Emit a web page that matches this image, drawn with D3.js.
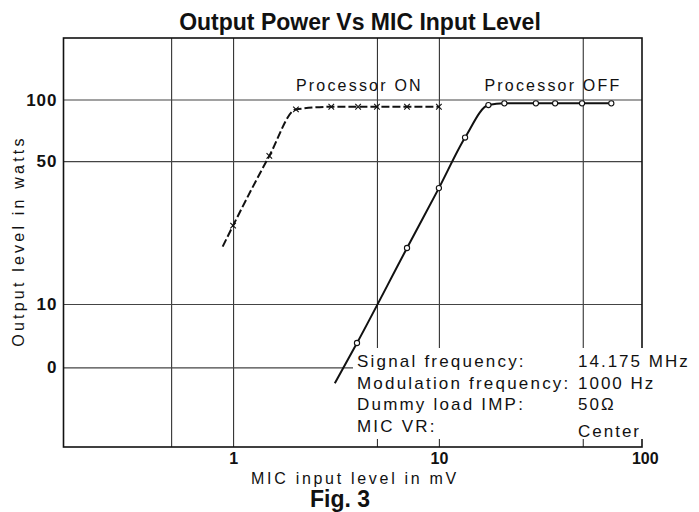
<!DOCTYPE html>
<html>
<head>
<meta charset="utf-8">
<script src="https://cdn.jsdelivr.net/npm/d3@7"></script>
<style>
  body { margin: 0; background: #fff; }
  svg { display: block; font-family: "Liberation Sans", Arial, sans-serif; }
</style>
</head>
<body>
<svg id="chart"></svg>
<script>
// data (mic input in mV, output in watts)
const onMic = [0.89, 1, 1.5, 2.02, 3, 4.05, 5, 7, 10];
const onWatts = [19.1, 24.2, 53, 89.5, 92.2, 92.2, 92.2, 92.2, 92.2];
const offMic = [3.12, 4, 7, 10, 13.4, 17.4, 20.8, 29.6, 36.7, 49.6, 68.8];
const offWatts = [4.1, 6.45, 18.8, 36.9, 65.2, 94, 95.8, 95.8, 95.8, 95.8, 95.8];

const xGridValues = [0.5, 1, 5, 10, 50];
const xTickValues = [1, 10, 100];
const xTickLabels = ["1", "10", "100"];
const yTickValues = [4.9, 10, 50, 100];
const yTickLabels = ["0", "10", "50", "100"];

const noteLabels = ["Signal frequency:", "Modulation frequency:", "Dummy load IMP:", "MIC VR:"];
const noteValues = ["14.175 MHz", "1000 Hz", "50\u03A9", "Center"];

const width = 699, height = 512;
const margin = { top: 38, right: 57, bottom: 65, left: 63.5 };
const innerW = width - margin.left - margin.right;
const innerH = height - margin.top - margin.bottom;

const svg = d3.select("#chart").attr("width", width).attr("height", height);

const x = d3.scaleLog().domain([0.15, 97]).range([0, innerW]);
const y = d3.scaleLog().domain([2, 200]).range([innerH, 0]);

// title
svg.append("text")
  .attr("x", 360).attr("y", 30)
  .attr("text-anchor", "middle")
  .style("font-size", "23px").style("font-weight", "bold")
  .attr("fill", "#111")
  .text("Output Power Vs MIC Input Level");

const g = svg.append("g").attr("transform", `translate(${margin.left},${margin.top})`);

// grid
g.append("g")
  .call(d3.axisBottom(x).tickValues(xGridValues).tickSize(innerH).tickFormat(""))
  .call((s) => s.select(".domain").remove())
  .selectAll("line").attr("stroke", "#333").attr("stroke-width", 1.1);

g.append("g")
  .call(d3.axisLeft(y).tickValues(yTickValues).tickSize(-innerW).tickFormat(""))
  .call((s) => s.select(".domain").remove())
  .selectAll("line").attr("stroke", "#444").attr("stroke-width", 1.1);

// frame
g.append("rect")
  .attr("width", innerW).attr("height", innerH)
  .attr("fill", "none").attr("stroke", "#111").attr("stroke-width", 1.6);

// white box behind the test conditions
g.append("rect")
  .attr("x", 353 - margin.left).attr("y", 348 - margin.top)
  .attr("width", 300).attr("height", 91)
  .attr("fill", "#fff");

// axis labels
const xAxis = g.append("g")
  .attr("transform", `translate(0,${innerH})`)
  .call(d3.axisBottom(x).tickValues(xTickValues).tickSize(0).tickPadding(6)
    .tickFormat((d, i) => xTickLabels[i]));
xAxis.select(".domain").remove();
xAxis.selectAll("text")
  .style("font-size", "16px").style("font-weight", "bold")
  .style("font-family", "Liberation Sans, Arial, sans-serif")
  .attr("fill", "#111");

const yAxis = g.append("g")
  .call(d3.axisLeft(y).tickValues(yTickValues).tickSize(0).tickPadding(6)
    .tickFormat((d, i) => yTickLabels[i]));
yAxis.select(".domain").remove();
yAxis.selectAll("text")
  .style("font-size", "17px").style("font-weight", "bold")
  .style("letter-spacing", "1px")
  .style("font-family", "Liberation Sans, Arial, sans-serif")
  .attr("fill", "#111");

svg.append("text")
  .attr("x", 355).attr("y", 484)
  .attr("text-anchor", "middle")
  .style("font-size", "16px").style("letter-spacing", "2.7px")
  .attr("fill", "#111")
  .text("MIC input level in mV");

svg.append("text")
  .attr("transform", "translate(24,241) rotate(-90)")
  .attr("text-anchor", "middle")
  .style("font-size", "16px").style("letter-spacing", "3.2px")
  .attr("fill", "#111")
  .text("Output level in watts");

svg.append("text")
  .attr("x", 340).attr("y", 507)
  .attr("text-anchor", "middle")
  .style("font-size", "23px").style("font-weight", "bold")
  .attr("fill", "#111")
  .text("Fig. 3");

// curves
const onData = onMic.map((d, i) => ({ mic: d, w: onWatts[i] }));
const offData = offMic.map((d, i) => ({ mic: d, w: offWatts[i] }));

const line = d3.line()
  .x((d) => x(d.mic))
  .y((d) => y(d.w))
  .curve(d3.curveMonotoneX);

g.append("path")
  .datum(onData)
  .attr("fill", "none")
  .attr("stroke", "#111")
  .attr("stroke-width", 2)
  .attr("stroke-dasharray", "8,3")
  .attr("d", line);

g.append("path")
  .datum(offData)
  .attr("fill", "none")
  .attr("stroke", "#111")
  .attr("stroke-width", 2)
  .attr("d", line);

// x markers (first point is just where the line starts)
const cross = d3.symbol().type(d3.symbolX).size(22);
g.selectAll(".on-mark")
  .data(onData.slice(1))
  .join("path")
  .attr("class", "on-mark")
  .attr("transform", (d) => `translate(${x(d.mic)},${y(d.w)})`)
  .attr("d", cross)
  .attr("fill", "none")
  .attr("stroke", "#111")
  .attr("stroke-width", 1.1);

g.selectAll(".off-mark")
  .data(offData.slice(1))
  .join("circle")
  .attr("class", "off-mark")
  .attr("cx", (d) => x(d.mic))
  .attr("cy", (d) => y(d.w))
  .attr("r", 2.6)
  .attr("fill", "#fff")
  .attr("stroke", "#111")
  .attr("stroke-width", 1.1);

// series labels
g.append("text")
  .attr("x", x(2.02)).attr("y", 91 - margin.top)
  .style("font-size", "16px").style("letter-spacing", "2.2px")
  .attr("fill", "#111")
  .text("Processor ON");

g.append("text")
  .attr("x", x(17.4) - 4).attr("y", 91 - margin.top)
  .style("font-size", "16px").style("letter-spacing", "2.2px")
  .attr("fill", "#111")
  .text("Processor OFF");

// test conditions
const notes = svg.append("g");
noteLabels.forEach((t, i) => {
  notes.append("text")
    .attr("x", 357).attr("y", 367 + i * 21.5)
    .style("font-size", "17px").style("letter-spacing", "2.2px")
    .attr("fill", "#111")
    .text(t);
  notes.append("text")
    .attr("x", 578).attr("y", 367 + i * 21.5 + (i === 3 ? 5 : 0))
    .style("font-size", "17px").style("letter-spacing", "2px")
    .attr("fill", "#111")
    .text(noteValues[i]);
});
</script>
</body>
</html>
